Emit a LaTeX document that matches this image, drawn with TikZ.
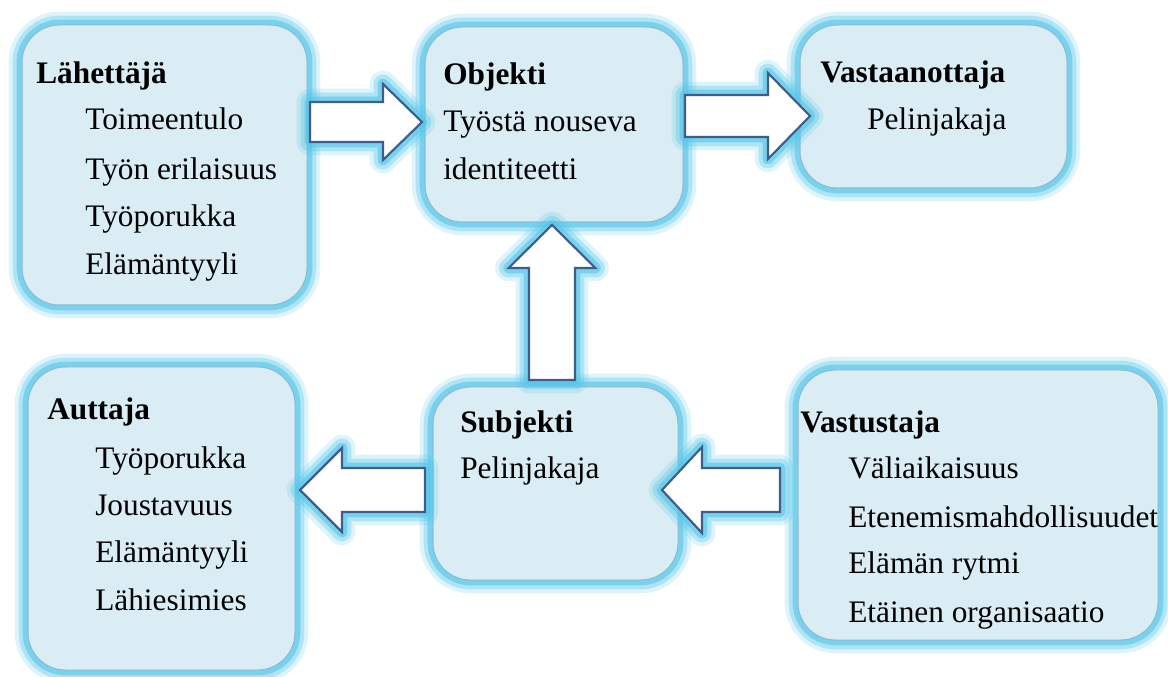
\documentclass[tikz,border=0pt]{standalone}
\usepackage{fontspec}
\setmainfont{Liberation Serif}
\newfontfamily\tnr{Liberation Serif}
\usetikzlibrary{calc,fit}

\definecolor{boxfill}{RGB}{218,237,244}
\definecolor{boxline}{RGB}{140,185,210}
\definecolor{glowc}{RGB}{85,198,232}
\definecolor{arrline}{RGB}{62,92,140}

\tikzset{
  glowing/.style={
    preaction={draw=glowc, line width=20pt, opacity=0.2, line join=round},
    preaction={draw=glowc, line width=14pt, opacity=0.35, line join=round},
    preaction={draw=glowc, line width=8pt, opacity=0.6, line join=round},
  },
  box/.style={rectangle, rounded corners=28pt, fill=boxfill, draw=boxline,
    line width=0.75pt, inner sep=0pt, glowing},
  blockarr/.style={fill=white, draw=arrline, line width=1.6pt, line join=miter, glowing},
  ttl/.style={anchor=base west, inner sep=0pt, font=\tnr\fontsize{23.5}{28}\selectfont\bfseries},
  itm/.style={anchor=base west, inner sep=0pt, font=\tnr\fontsize{23.5}{28}\selectfont},
}

% block arrow: name, tail, tip, shaft half-width, head half-width, head length
\newcommand{\blockarrow}[6]{%
  \coordinate (#1-hb) at ($(#3)!#6!(#2)$);
  \path[blockarr] ($(#2)!#4!90:(#3)$) -- ($(#1-hb)!#4!90:(#3)$)
    -- ($(#1-hb)!#5!90:(#3)$) -- (#3) -- ($(#1-hb)!#5!-90:(#3)$)
    -- ($(#1-hb)!#4!-90:(#3)$) -- ($(#2)!#4!-90:(#3)$) -- cycle;
}

\begin{document}
\begin{tikzpicture}[x=0.75pt, y=-0.75pt]
\useasboundingbox (0,0) rectangle (1168,677);

% boxes
\node[box, fit={(22,25) (307,305)}]   (lah) {};
\node[box, fit={(425,27) (683,222)}]  (obj) {};
\node[box, fit={(800,25) (1067,188)}] (vas) {};
\node[box, fit={(28,367) (295,670)}]  (aut) {};
\node[box, fit={(433,387) (678,580)}] (sub) {};
\node[box, fit={(798,370) (1158,640)}] (vst) {};

% arrow end points
\coordinate (a1s) at (310,122); \coordinate (a1t) at (422,122);
\coordinate (a2s) at (685,116); \coordinate (a2t) at (810,116);
\coordinate (a3s) at (552,380); \coordinate (a3t) at (552,225);
\coordinate (a4s) at (425,490); \coordinate (a4t) at (300,490);
\coordinate (a5s) at (780,490); \coordinate (a5t) at (662,490);

\blockarrow{a1}{a1s}{a1t}{15pt}{28.5pt}{29.25pt}
\blockarrow{a2}{a2s}{a2t}{15.75pt}{32.25pt}{31.5pt}
\blockarrow{a3}{a3s}{a3t}{17.25pt}{32.6pt}{32.25pt}
\blockarrow{a4}{a4s}{a4t}{16.5pt}{31.5pt}{31.5pt}
\blockarrow{a5}{a5s}{a5t}{16.5pt}{32.25pt}{30pt}

% Lähettäjä
\node[ttl] (lah-t) at (36,84) {Lähettäjä};
\node[itm] (lah-1) at (85,130) {Toimeentulo};
\node[itm] (lah-2) at (85,180) {Työn erilaisuus};
\node[itm] (lah-3) at (85,227) {Työporukka};
\node[itm] (lah-4) at (85,275) {Elämäntyyli};

% Objekti
\node[ttl] (obj-t) at (443,85) {Objekti};
\node[itm] (obj-1) at (443,132) {Työstä nouseva};
\node[itm] (obj-2) at (443,180) {identiteetti};

% Vastaanottaja
\node[ttl] (vas-t) at (820,83) {Vastaanottaja};
\node[itm] (vas-1) at (867,130) {Pelinjakaja};

% Auttaja
\node[ttl] (aut-t) at (47,420) {Auttaja};
\node[itm] (aut-1) at (95,468) {Työporukka};
\node[itm] (aut-2) at (95,515) {Joustavuus};
\node[itm] (aut-3) at (95,562) {Elämäntyyli};
\node[itm] (aut-4) at (95,610) {Lähiesimies};

% Subjekti
\node[ttl] (sub-t) at (460,432) {Subjekti};
\node[itm] (sub-1) at (460,478) {Pelinjakaja};

% Vastustaja
\node[ttl] (vst-t) at (800,432) {Vastustaja};
\node[itm] (vst-1) at (848,478) {Väliaikaisuus};
\node[itm] (vst-2) at (848,527) {Etenemismahdollisuudet};
\node[itm] (vst-3) at (848,573) {Elämän rytmi};
\node[itm] (vst-4) at (848,622) {Etäinen organisaatio};
\end{tikzpicture}
\end{document}
